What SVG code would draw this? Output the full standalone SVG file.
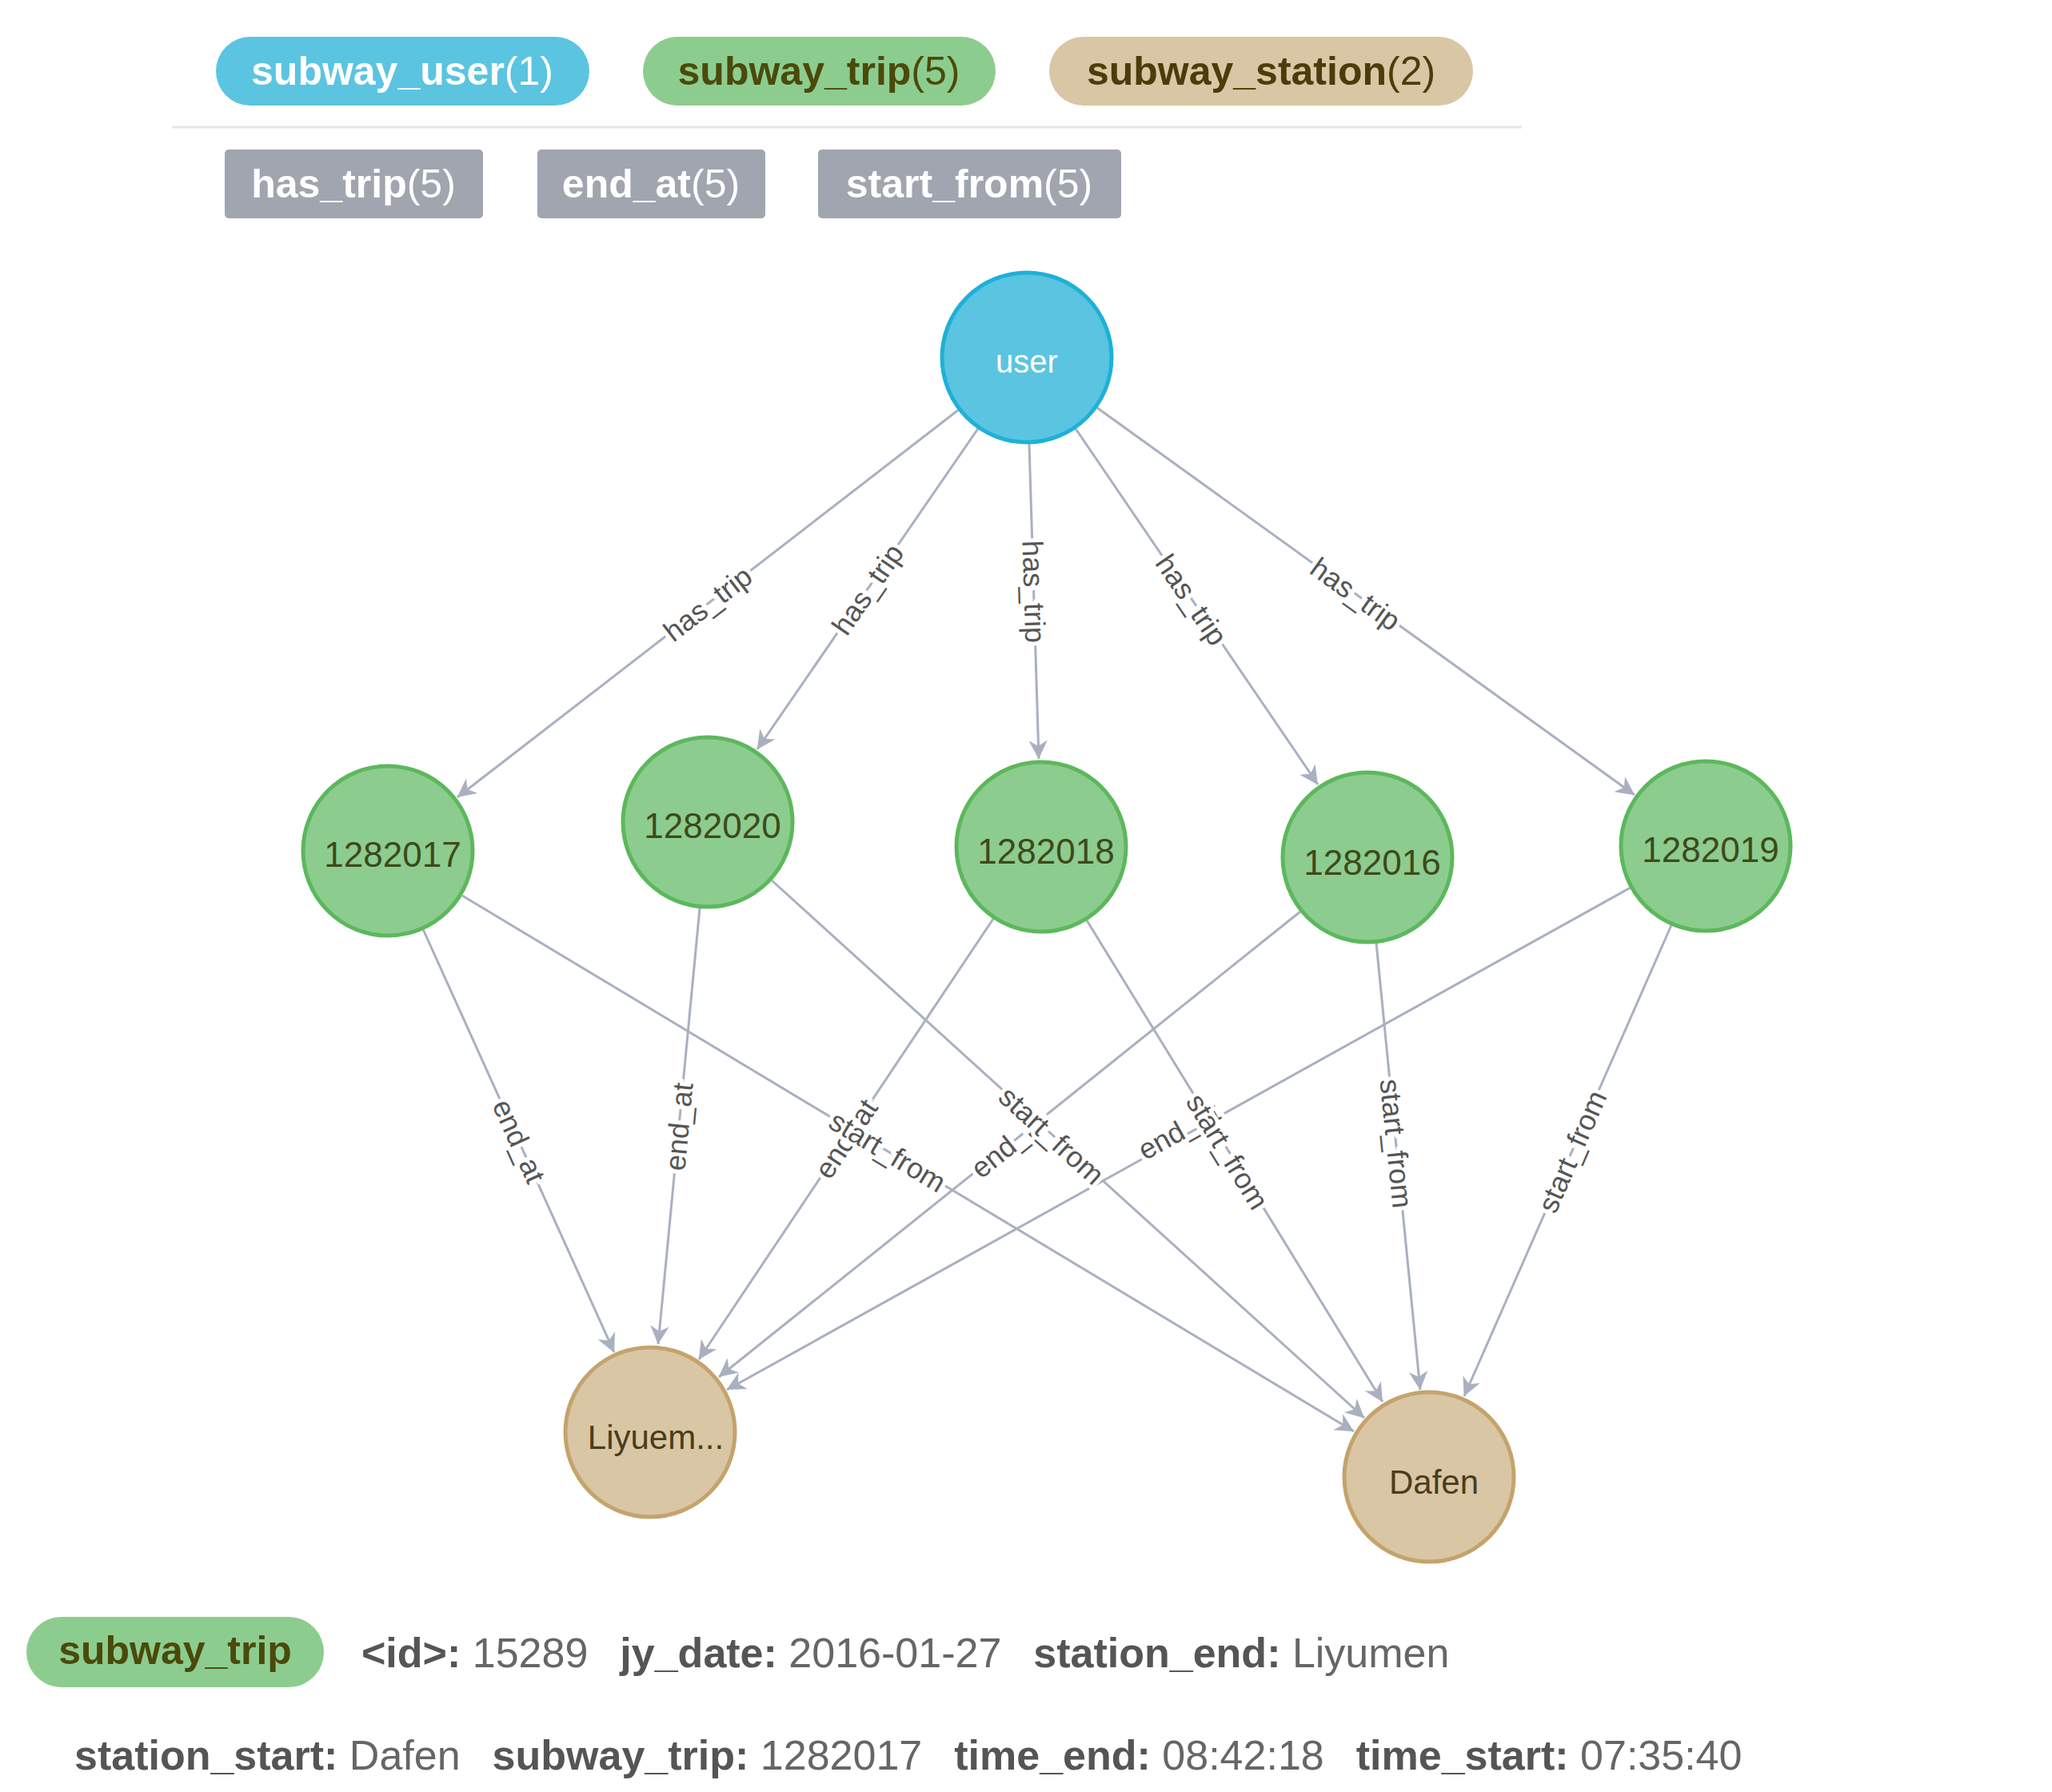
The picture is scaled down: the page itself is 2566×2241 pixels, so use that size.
<svg xmlns="http://www.w3.org/2000/svg" width="2566" height="2241" viewBox="0 0 2566 2241">
<style>
text{font-family:"Liberation Sans",Arial,sans-serif}
.e{stroke:#a9b0c0;stroke-width:3;fill:none;marker-end:url(#a)}
.el{font-size:36px;fill:#555;text-anchor:middle;dominant-baseline:central;stroke:#fff;stroke-width:10;paint-order:stroke}
.trip circle{fill:#8dcc8f;stroke:#5cb85c;stroke-width:5}
.trip text{fill:#3d4a1a;font-size:44px;text-anchor:middle;dominant-baseline:central}
.st circle{fill:#d9c6a5;stroke:#c4a46c;stroke-width:5}
.st text{fill:#4a3d1a;font-size:42px;text-anchor:middle;dominant-baseline:central}
.lg{font-size:50px;font-weight:bold;text-anchor:middle;dominant-baseline:central}
.k{font-weight:bold;fill:#555;font-size:52px}
.v{fill:#666;font-size:52px}
</style>
<defs><marker id="a" viewBox="0 0 10 10" refX="10" refY="5" markerWidth="9" markerHeight="9" markerUnits="userSpaceOnUse" orient="auto" style="overflow:visible"><path d="M0,0 L10,5 L0,10 L3,5 z" fill="#a9b0c0" transform="scale(2.6) translate(-6,-3)"/></marker></defs>
<rect width="2566" height="2241" fill="#fff"/>
<g id="legend">
<rect x="270" y="46" width="467" height="86" rx="43" fill="#5bc4e0"/><text class="lg" x="503" y="89" fill="#fff">subway_user<tspan font-weight="normal">(1)</tspan></text>
<rect x="804" y="46" width="441" height="86" rx="43" fill="#8dcc8f"/><text class="lg" x="1024" y="89" fill="#4a4a0a">subway_trip<tspan font-weight="normal">(5)</tspan></text>
<rect x="1312" y="46" width="530" height="86" rx="43" fill="#d9c6a5"/><text class="lg" x="1577" y="89" fill="#4a3d0a">subway_station<tspan font-weight="normal">(2)</tspan></text>
<line x1="215" y1="159" x2="1903" y2="159" stroke="#e4e6ea" stroke-width="3"/>
<rect x="281" y="187" width="323" height="86" rx="5" fill="#a0a5b0"/><text class="lg" x="442" y="230" fill="#fff">has_trip<tspan font-weight="normal">(5)</tspan></text>
<rect x="672" y="187" width="285" height="86" rx="5" fill="#a0a5b0"/><text class="lg" x="814" y="230" fill="#fff">end_at<tspan font-weight="normal">(5)</tspan></text>
<rect x="1023" y="187" width="379" height="86" rx="5" fill="#a0a5b0"/><text class="lg" x="1212" y="230" fill="#fff">start_from<tspan font-weight="normal">(5)</tspan></text>
</g>
<g id="connectors">
<line class="e" x1="1198" y1="513" x2="572" y2="997"/>
<line class="e" x1="1223" y1="536" x2="947" y2="937"/>
<line class="e" x1="1287" y1="555" x2="1299" y2="949"/>
<line class="e" x1="1345" y1="536" x2="1648" y2="981"/>
<line class="e" x1="1372" y1="510" x2="2044" y2="994"/>
<line class="e" x1="529" y1="1162" x2="768" y2="1691"/>
<line class="e" x1="875" y1="1136" x2="823" y2="1681"/>
<line class="e" x1="1242" y1="1149" x2="874" y2="1700"/>
<line class="e" x1="1626" y1="1140" x2="899" y2="1722"/>
<line class="e" x1="2039" y1="1110" x2="909" y2="1738"/>
<line class="e" x1="578" y1="1120" x2="1693" y2="1790"/>
<line class="e" x1="965" y1="1101" x2="1706" y2="1773"/>
<line class="e" x1="1359" y1="1151" x2="1729" y2="1753"/>
<line class="e" x1="1721" y1="1179" x2="1776" y2="1738"/>
<line class="e" x1="2090" y1="1157" x2="1831" y2="1746"/>
<text class="el" transform="translate(885,755) rotate(-37.7)">has_trip</text>
<text class="el" transform="translate(1085,737) rotate(-55.5)">has_trip</text>
<text class="el" transform="translate(1293,740) rotate(88.3)">has_trip</text>
<text class="el" transform="translate(1490,750) rotate(55.7)">has_trip</text>
<text class="el" transform="translate(1695,743) rotate(35.7)">has_trip</text>
<text class="el" transform="translate(649,1427) rotate(65.7)">end_at</text>
<text class="el" transform="translate(849,1409) rotate(-84.6)">end_at</text>
<text class="el" transform="translate(1058,1424) rotate(-56.3)">end_at</text>
<text class="el" transform="translate(1262,1431) rotate(-38.7)">end_at</text>
<text class="el" transform="translate(1474,1414) rotate(-29)">end_at</text>
<text class="el" transform="translate(1110,1440) rotate(31)">start_from</text>
<text class="el" transform="translate(1315,1420) rotate(42.2)">start_from</text>
<text class="el" transform="translate(1535,1440) rotate(58.4)">start_from</text>
<text class="el" transform="translate(1746,1430) rotate(84.3)">start_from</text>
<text class="el" transform="translate(1966,1440) rotate(-66.3)">start_from</text>
</g>
<g id="user"><circle cx="1284" cy="447" r="106" fill="#5bc4e0" stroke="#1fb0d8" stroke-width="5"/><text x="1284" y="452" fill="#fff" font-size="40" text-anchor="middle" dominant-baseline="central">user</text></g>
<g id="t1282017" class="trip"><circle cx="485" cy="1064" r="106"/><text x="491" y="1068">1282017</text></g>
<g id="t1282020" class="trip"><circle cx="885" cy="1028" r="106"/><text x="891" y="1032">1282020</text></g>
<g id="t1282018" class="trip"><circle cx="1302" cy="1059" r="106"/><text x="1308" y="1064">1282018</text></g>
<g id="t1282016" class="trip"><circle cx="1710" cy="1072" r="106"/><text x="1716" y="1078">1282016</text></g>
<g id="t1282019" class="trip"><circle cx="2133" cy="1058" r="106"/><text x="2139" y="1062">1282019</text></g>
<g id="liyumen" class="st"><circle cx="813" cy="1791" r="106"/><text x="820" y="1797">Liyuem...</text></g>
<g id="dafen" class="st"><circle cx="1787" cy="1847" r="106"/><text x="1793" y="1853">Dafen</text></g>
<g id="details">
<rect x="33" y="2022" width="372" height="88" rx="44" fill="#8dcc8f"/><text class="lg" x="219" y="2064" fill="#4a4a0a">subway_trip</text>
<text x="452" y="2085"><tspan class="k">&lt;id&gt;: </tspan><tspan class="v">15289</tspan><tspan class="k" dx="40">jy_date: </tspan><tspan class="v">2016-01-27</tspan><tspan class="k" dx="40">station_end: </tspan><tspan class="v">Liyumen</tspan></text>
<text x="93" y="2213"><tspan class="k">station_start: </tspan><tspan class="v">Dafen</tspan><tspan class="k" dx="40">subway_trip: </tspan><tspan class="v">1282017</tspan><tspan class="k" dx="40">time_end: </tspan><tspan class="v">08:42:18</tspan><tspan class="k" dx="40">time_start: </tspan><tspan class="v">07:35:40</tspan></text>
</g>
</svg>
